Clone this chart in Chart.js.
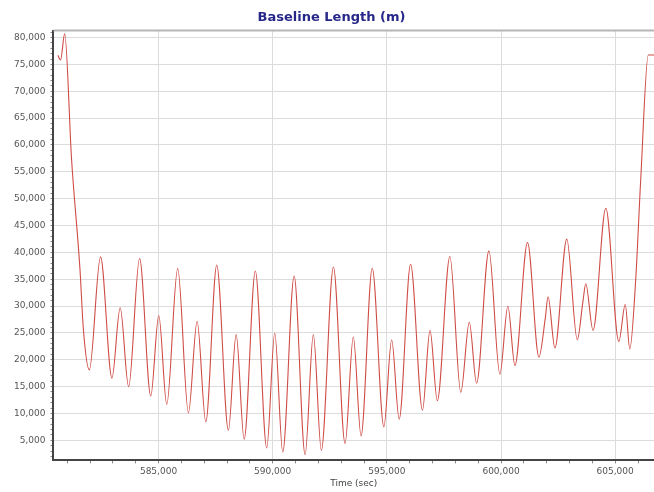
<!DOCTYPE html>
<html>
<head>
<meta charset="utf-8">
<script src="https://cdn.jsdelivr.net/npm/chart.js@4.4.1/dist/chart.umd.min.js"></script>
<style>
  html, body { margin: 0; padding: 0; background: #fff; }
</style>
</head>
<body>
<canvas id="baselineChart" width="654" height="492"></canvas>
<script>
// points: time (sec) and baseline length (m)
var timeSec = [
    580590, 580710, 580890, 581190, 581560, 581710, 581970,
    582460, 582960, 583320, 583690, 584170, 584660, 585010, 585360,
    585840, 586310, 586690, 587070, 587550, 588060, 588400, 588750,
    589240, 589740, 590090, 590440, 590940, 591420, 591780, 592130,
    592660, 593170, 593530, 593870, 594360, 594870, 595210, 595540,
    596040, 596560, 596890, 597210, 597760, 598240, 598610, 598930,
    599470, 599950, 600300, 600610, 601160, 601660, 601940, 602060,
    602360, 602880, 603340, 603590, 603710, 604030, 604590, 605160,
    605440, 605640, 605900, 606120, 606450, 606700
];
var baseline = [
    76700, 75850, 80690, 57440, 36840, 25600, 18110,
    39150, 16560, 29670, 14980, 38850, 13240, 28230, 11690,
    36970, 10110, 27160, 8430, 37650, 6870, 24670, 5190,
    36530, 3560, 24980, 2810, 35590, 2320, 24670, 3130,
    37270, 4380, 24230, 5810, 37030, 7500, 23730, 8930,
    37780, 10620, 25470, 12360, 39220, 13930, 26970, 15620,
    40270, 17300, 29970, 18920, 41840, 20490, 27800, 31730,
    22180, 42460, 23730, 30910, 34160, 25470, 48210, 23410,
    30290, 21990, 35000, 53700, 76760, 76760
];

// labelled ticks
var xLabels = [585000, 590000, 595000, 600000, 605000];
var yLabels = [5000, 10000, 15000, 20000, 25000, 30000, 35000, 40000,
               45000, 50000, 55000, 60000, 65000, 70000, 75000, 80000];

var xMin = 580400, xMax = 606700;
var yMin = 1250, yMax = 81300;
var minorStep = 1000;   // small tick marks between the labels

var points = [];
for (var i = 0; i < timeSec.length; i++) {
    points.push({ x: timeSec[i], y: baseline[i] });
}

// every 1000 inside the range gets a small tick mark
function minorTicks(scale) {
    var list = [];
    var v = Math.ceil(scale.min / minorStep) * minorStep;
    for (; v <= scale.max; v += minorStep) {
        list.push({ value: v });
    }
    scale.ticks = list;
}

function labelFor(list) {
    return function(value) {
        return list.indexOf(value) >= 0 ? value.toLocaleString('en-US') : '';
    };
}

function gridFor(list) {
    return function(c) {
        return c.tick && list.indexOf(c.tick.value) >= 0 ? '#dcdcdc' : 'rgba(0,0,0,0)';
    };
}

// thin grey line along the top of the plot area
var topBorder = {
    id: 'topBorder',
    afterDraw: function(chart) {
        var a = chart.chartArea;
        var c = chart.ctx;
        c.save();
        c.strokeStyle = '#b5b5b5';
        c.lineWidth = 2;
        c.beginPath();
        c.moveTo(a.left, a.top);
        c.lineTo(a.right, a.top);
        c.stroke();
        c.restore();
    }
};

var tickFont = { family: 'DejaVu Sans', size: 9 };

var ctx = document.getElementById('baselineChart').getContext('2d');
var myChart = new Chart(ctx, {
    type: 'line',
    data: {
        datasets: [{
            label: 'Baseline Length',
            data: points,
            borderColor: '#cf4c46',
            borderWidth: 1.1,
            pointRadius: 0,
            fill: false,
            cubicInterpolationMode: 'monotone'
        }]
    },
    options: {
        responsive: false,
        animation: false,
        layout: { padding: { left: 9, right: 0, top: 0, bottom: 3 } },
        plugins: {
            legend: { display: false },
            tooltip: { enabled: false },
            title: {
                display: true,
                text: 'Baseline Length (m)',
                color: '#27278a',
                font: { family: 'DejaVu Sans', size: 13, weight: 'bold' },
                padding: { top: 10, bottom: 5 }
            }
        },
        scales: {
            x: {
                type: 'linear',
                min: xMin,
                max: xMax,
                afterBuildTicks: minorTicks,
                border: { color: '#444', width: 2 },
                grid: { color: gridFor(xLabels), tickColor: '#888', tickLength: 3 },
                ticks: {
                    autoSkip: false,
                    maxRotation: 0,
                    padding: 3,
                    color: '#555',
                    font: tickFont,
                    callback: labelFor(xLabels)
                },
                title: {
                    display: true,
                    text: 'Time (sec)',
                    color: '#444',
                    font: tickFont,
                    padding: { top: -2, bottom: 0 }
                }
            },
            y: {
                type: 'linear',
                min: yMin,
                max: yMax,
                afterBuildTicks: minorTicks,
                border: { color: '#444', width: 2 },
                grid: { color: gridFor(yLabels), tickColor: '#888', tickLength: 3 },
                ticks: {
                    autoSkip: false,
                    padding: 5,
                    color: '#555',
                    font: tickFont,
                    callback: labelFor(yLabels)
                }
            }
        }
    },
    plugins: [topBorder]
});
</script>
</body>
</html>
